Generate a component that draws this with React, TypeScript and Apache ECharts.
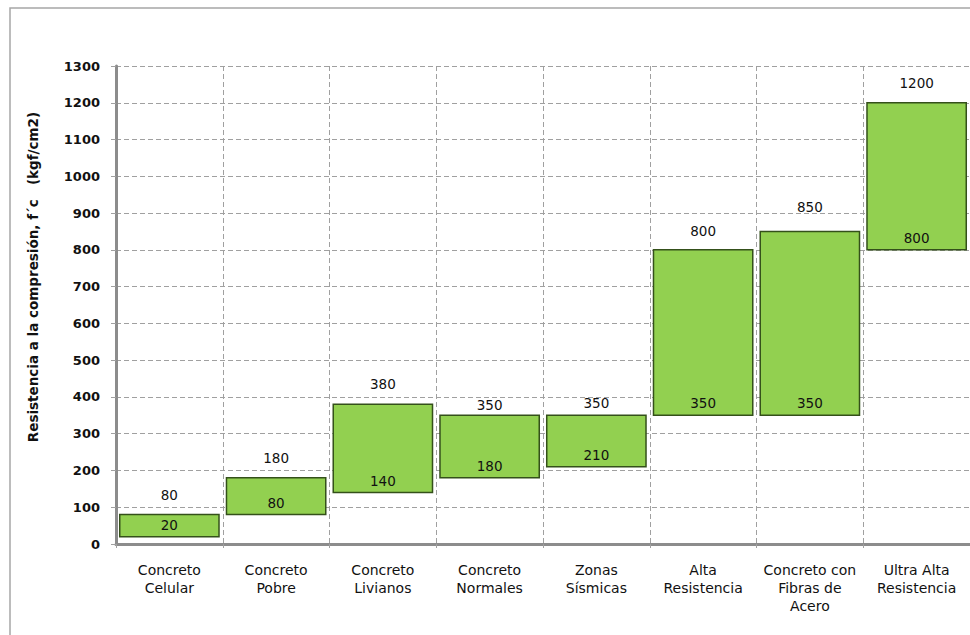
import React, { useEffect, useRef } from "react";
import * as echarts from "echarts";

const categories = [
  "Concreto\nCelular",
  "Concreto\nPobre",
  "Concreto\nLivianos",
  "Concreto\nNormales",
  "Zonas\nSísmicas",
  "Alta\nResistencia",
  "Concreto con\nFibras de\nAcero",
  "Ultra Alta\nResistencia",
];
const lowValues = [20, 80, 140, 180, 210, 350, 350, 800];
const highValues = [80, 180, 380, 350, 350, 800, 850, 1200];
const yTicks = { min: 0, max: 1300, interval: 100 };
const yTitle = "Resistencia a la compresión, f´c   (kgf/cm2)";

// presentation only: how far above each bar top its upper label sits (px)
const topLabelLift = [20, 20, 20, 10, 12, 19, 24, 20];

const FONT = "DejaVu Sans";

export default function App() {
  const ref = useRef<HTMLDivElement>(null);
  useEffect(() => {
    if (!ref.current) return;
    const chart = echarts.init(ref.current, null, { renderer: "svg" });
    const data = categories.map((_, i) => [i, lowValues[i], highValues[i]]);
    chart.setOption({
      animation: false,
      backgroundColor: "#ffffff",
      grid: { left: 116, top: 66, bottom: 91, right: -5, containLabel: false },
      graphic: [
        {
          type: "rect",
          shape: { x: 10, y: 8, width: 1000, height: 700 },
          style: { fill: "none", stroke: "#a6a6a6", lineWidth: 1.5 },
          silent: true,
          z: -1,
        },
        {
          type: "text",
          x: 33,
          y: 277,
          rotation: Math.PI / 2,
          style: {
            text: yTitle,
            fill: "#111",
            font: `bold 13.5px "${FONT}"`,
            align: "center",
            verticalAlign: "middle",
          },
        },
      ],
      xAxis: {
        type: "category",
        data: categories,
        boundaryGap: true,
        axisLine: { show: true, lineStyle: { color: "#8c8c8c", width: 3 } },
        axisTick: { show: true, length: 5, lineStyle: { color: "#a0a0a0", type: "dashed" } },
        splitLine: { show: true, lineStyle: { color: "#a0a0a0", type: [5, 3], width: 1 } },
        axisLabel: {
          interval: 0,
          margin: 17,
          color: "#111",
          fontFamily: FONT,
          fontSize: 14,
          lineHeight: 18,
        },
      },
      yAxis: {
        type: "value",
        min: yTicks.min,
        max: yTicks.max,
        interval: yTicks.interval,
        axisLine: { show: true, lineStyle: { color: "#8c8c8c", width: 3 } },
        axisTick: { show: true, length: 5, lineStyle: { color: "#a0a0a0" } },
        splitLine: { show: true, lineStyle: { color: "#a0a0a0", type: [5, 3], width: 1 } },
        axisLabel: {
          margin: 16,
          color: "#111",
          fontFamily: FONT,
          fontSize: 13,
          fontWeight: "bold",
          formatter: (v: number) => String(v),
        },
      },
      series: [
        {
          type: "custom",
          data,
          encode: { x: 0, y: [1, 2] },
          renderItem: (params: any, api: any) => {
            const idx = api.value(0);
            const low = api.value(1);
            const high = api.value(2);
            const pLow = api.coord([idx, low]);
            const pHigh = api.coord([idx, high]);
            const band = api.size([1, 0])[0];
            const w = band * 0.93;
            const x0 = pLow[0] - w / 2;
            return {
              type: "group",
              children: [
                {
                  type: "rect",
                  shape: { x: x0, y: pHigh[1], width: w, height: pLow[1] - pHigh[1] },
                  style: { fill: "#92d050", stroke: "#34501a", lineWidth: 1.5 },
                },
                {
                  type: "text",
                  x: pHigh[0],
                  y: pHigh[1] - topLabelLift[params.dataIndex],
                  style: {
                    text: String(high),
                    fill: "#111",
                    font: `13.5px "${FONT}"`,
                    align: "center",
                    verticalAlign: "middle",
                  },
                },
                {
                  type: "text",
                  x: pLow[0],
                  y: pLow[1] - 12,
                  style: {
                    text: String(low),
                    fill: "#111",
                    font: `13.5px "${FONT}"`,
                    align: "center",
                    verticalAlign: "middle",
                  },
                },
              ],
            };
          },
        },
      ],
    });
    return () => chart.dispose();
  }, []);
  return (
    <div
      ref={ref}
      style={{ position: "fixed", left: 0, top: 0, width: 970, height: 635, background: "#fff" }}
    />
  );
}
